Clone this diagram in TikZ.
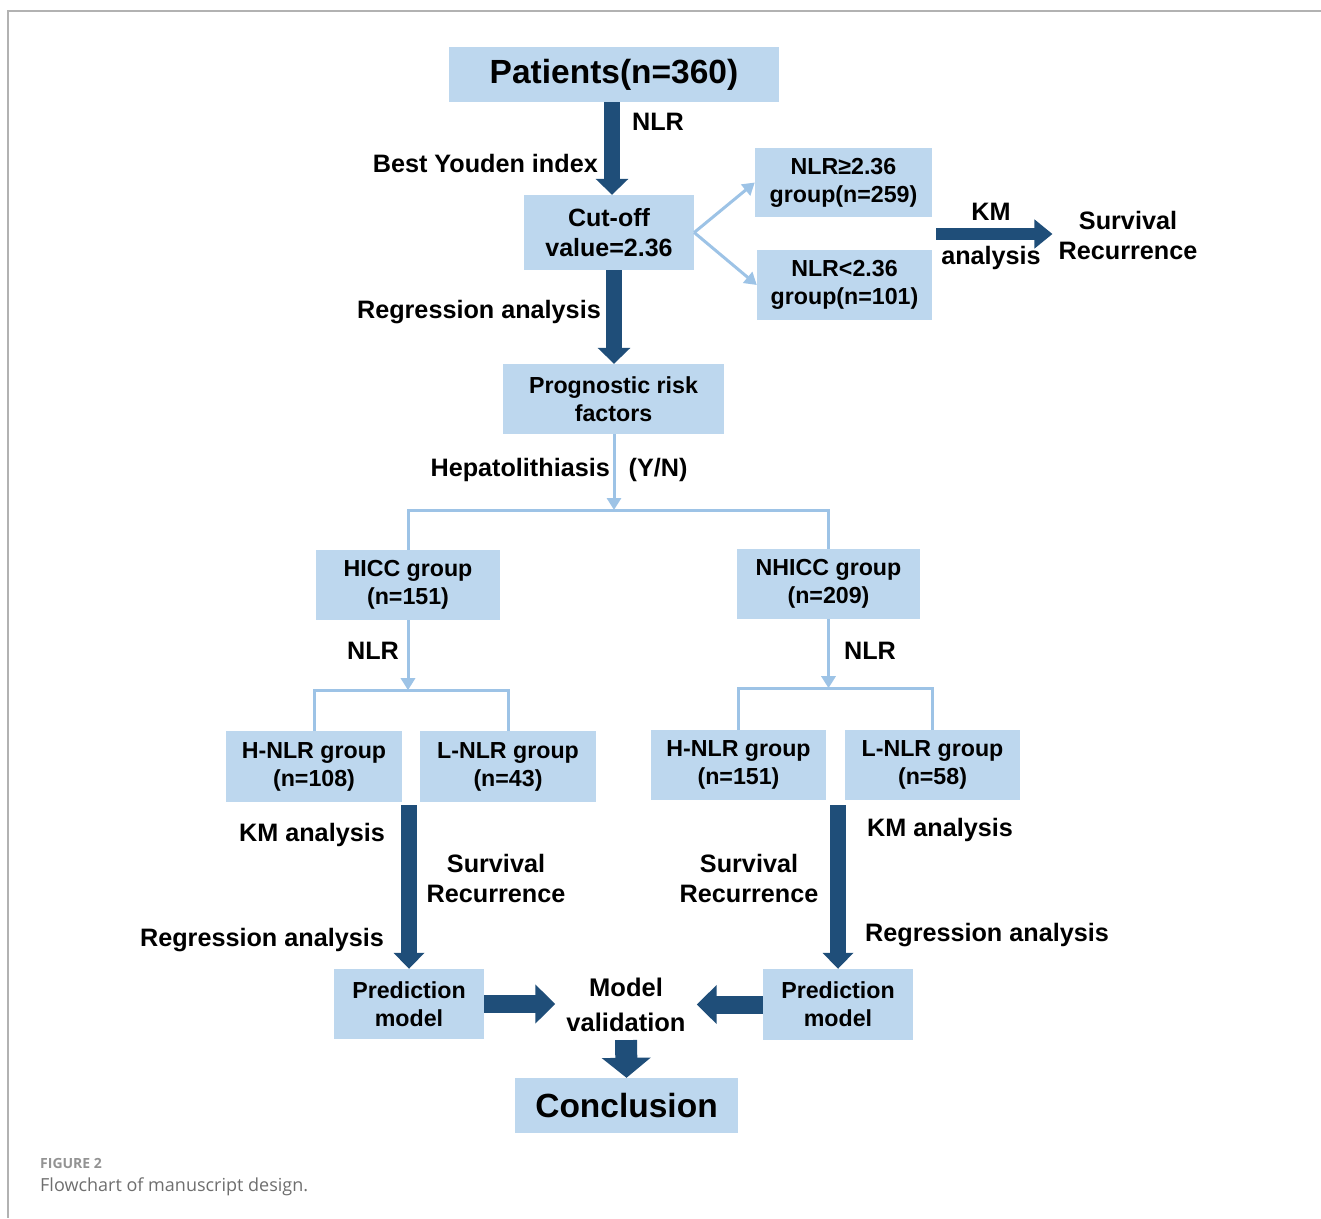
\documentclass[tikz,border=0pt]{standalone}
\usepackage{fontspec}
\setmainfont{Liberation Sans}
\newfontfamily\capfont{Open Sans}
\usetikzlibrary{arrows.meta,calc}
\definecolor{boxblue}{HTML}{BDD7EE}
\definecolor{darkblue}{HTML}{1F4E79}
\definecolor{lightblue}{HTML}{9DC3E6}
\definecolor{capgray}{HTML}{6E6E6E}
\newcommand{\fsbox}{\fontsize{23.2}{28}\selectfont\bfseries}
\newcommand{\fscut}{\fontsize{25}{30}\selectfont\bfseries}
\newcommand{\fsmain}{\fontsize{25.2}{30}\selectfont\bfseries}
\newcommand{\fsbig}{\fontsize{33.5}{38}\selectfont\bfseries}
\newcommand{\fsmid}{\fontsize{25.5}{35}\selectfont\bfseries}
\begin{document}
\begin{tikzpicture}[x=1pt,y=-1pt,
  box/.style={fill=boxblue, inner sep=0pt, align=center, font=\fsbox},
  lbl/.style={inner sep=0pt, align=center, font=\fsmain},
  thin/.style={draw=lightblue, line width=3pt},
  thinarr/.style={thin, -{Triangle[width=14pt,length=12pt]}},
  thick/.style={draw=darkblue}
]
\useasboundingbox (0,0) rectangle (1321,1218);
% frame
\draw[gray!60, line width=1.2pt] (1321,11) -- (8,11) -- (8,1218);

% boxes
\node[box, font=\fsbig, minimum width=330pt, minimum height=55pt] (pat) at (614,74.5) {Patients(n=360)};
\node[box, font=\fscut, minimum width=170pt, minimum height=75pt] (cut) at (609,232.5) {Cut-off\\value=2.36};
\node[box, minimum width=177pt, minimum height=69pt] (ge) at (843.5,182.5) {NLR≥2.36\\group(n=259)};
\node[box, minimum width=175pt, minimum height=70pt] (lt) at (844.5,285) {NLR<2.36\\group(n=101)};
\node[box, minimum width=221pt, minimum height=70pt] (prog) at (613.5,399) {Prognostic risk\\factors};
\node[box, minimum width=184pt, minimum height=70pt] (hicc) at (408,585) {HICC group\\(n=151)};
\node[box, minimum width=183pt, minimum height=70pt] (nhicc) at (828.5,584) {NHICC group\\(n=209)};
\node[box, minimum width=176pt, minimum height=71pt] (hnlA) at (314,766.5) {H-NLR group\\(n=108)};
\node[box, minimum width=176pt, minimum height=71pt] (lnlA) at (508,766.5) {L-NLR group\\(n=43)};
\node[box, minimum width=175pt, minimum height=70pt] (hnlB) at (738.5,765) {H-NLR group\\(n=151)};
\node[box, minimum width=175pt, minimum height=70pt] (lnlB) at (932.5,765) {L-NLR group\\(n=58)};
\node[box, minimum width=150pt, minimum height=70pt] (predL) at (409,1004) {Prediction\\model};
\node[box, minimum width=150pt, minimum height=71pt] (predR) at (838,1004.5) {Prediction\\model};
\node[box, font=\fsbig, minimum width=223pt, minimum height=55pt] (conc) at (626.5,1105.5) {Conclusion};
\node[lbl, font=\fsmid, inner xsep=11pt, inner ysep=2pt] (mv) at (626,1005) {Model\\validation};

% labels
\node[lbl] (nlrA) at (658,122) {NLR};
\node[lbl, anchor=east] (youden) at (598,163) {Best Youden index};
\node[lbl, anchor=east] (regA) at (601,312) {Regression analysis};
\node[lbl] (km) at (991,212) {KM};
\node[lbl] (kman) at (991,258) {analysis};
\node[lbl, inner xsep=6pt] (surv) at (1128,235) {Survival\\Recurrence};
\node[lbl, anchor=east] (hep) at (610,470) {Hepatolithiasis};
\node[lbl] (yn) at (658,470) {(Y/N)};
\node[lbl] (nlrB) at (373,651) {NLR};
\node[lbl] (nlrC) at (870,651) {NLR};
\node[lbl] (kmL) at (312,835) {KM analysis};
\node[lbl] (survL) at (496,878) {Survival\\Recurrence};
\node[lbl] (regL) at (262,940) {Regression analysis};
\node[lbl] (kmR) at (940,830) {KM analysis};
\node[lbl] (survR) at (749,878) {Survival\\Recurrence};
\node[lbl] (regR) at (987,935) {Regression analysis};

% caption
\node[inner sep=0pt, anchor=west, font=\capfont\bfseries\fontsize{14}{16}\selectfont, text=gray!85] (figno) at (40,1163) {FIGURE 2};
\node[inner sep=0pt, anchor=west, font=\capfont\fontsize{18}{22}\selectfont, text=capgray] (figcap) at (40,1187) {Flowchart of manuscript design.};

% coordinates
\coordinate (kmstart) at (936,234);
\coordinate (splitA) at (614,510);
\coordinate (splitB) at ($(hicc.south)+(0,70)$);
\coordinate (splitC) at ($(nhicc.south)+(0,69)$);
\coordinate (downL) at (409,805);
\coordinate (downR) at (838,805);

% thick dark arrows
\draw[thick, line width=16pt, -{Triangle[width=32pt,length=16pt]}] (pat.south -| 612,0) -- (cut.north -| 612,0);
\draw[thick, line width=16pt, -{Triangle[width=32pt,length=16pt]}] (cut.south -| 614,0) -- (prog.north -| 614,0);
\draw[thick, line width=12pt, -{Triangle[width=28pt,length=18pt]}] (kmstart) -- (surv.west |- kmstart);
\draw[thick, line width=16pt, -{Triangle[width=30pt,length=16pt]}] (downL) -- (predL.north);
\draw[thick, line width=16pt, -{Triangle[width=30pt,length=16pt]}] (downR) -- (predR.north);
\draw[thick, line width=18pt, -{Triangle[width=38pt,length=20pt]}] (predL.east) -- (mv.west |- predL.east);
\draw[thick, line width=18pt, -{Triangle[width=38pt,length=20pt]}] (predR.west) -- (mv.east |- predR.west);
\draw[thick, line width=22pt, -{Triangle[width=48pt,length=20pt]}, shorten <=6pt] (mv.south) -- (conc.north);

% thin light arrows
\draw[thinarr] (cut.east) -- (ge.west);
\draw[thinarr] (cut.east) -- (lt.west);
\draw[thinarr] (prog.south -| splitA) -- (splitA);
\draw[thin] (hicc.north) |- (splitA) -| (nhicc.north);
\draw[thinarr] (hicc.south) -- (splitB);
\draw[thin] (hnlA.north) |- (splitB) -| (lnlA.north);
\draw[thinarr] (nhicc.south) -- (splitC);
\draw[thin] (hnlB.north) |- (splitC) -| (lnlB.north);
\end{tikzpicture}
\end{document}
